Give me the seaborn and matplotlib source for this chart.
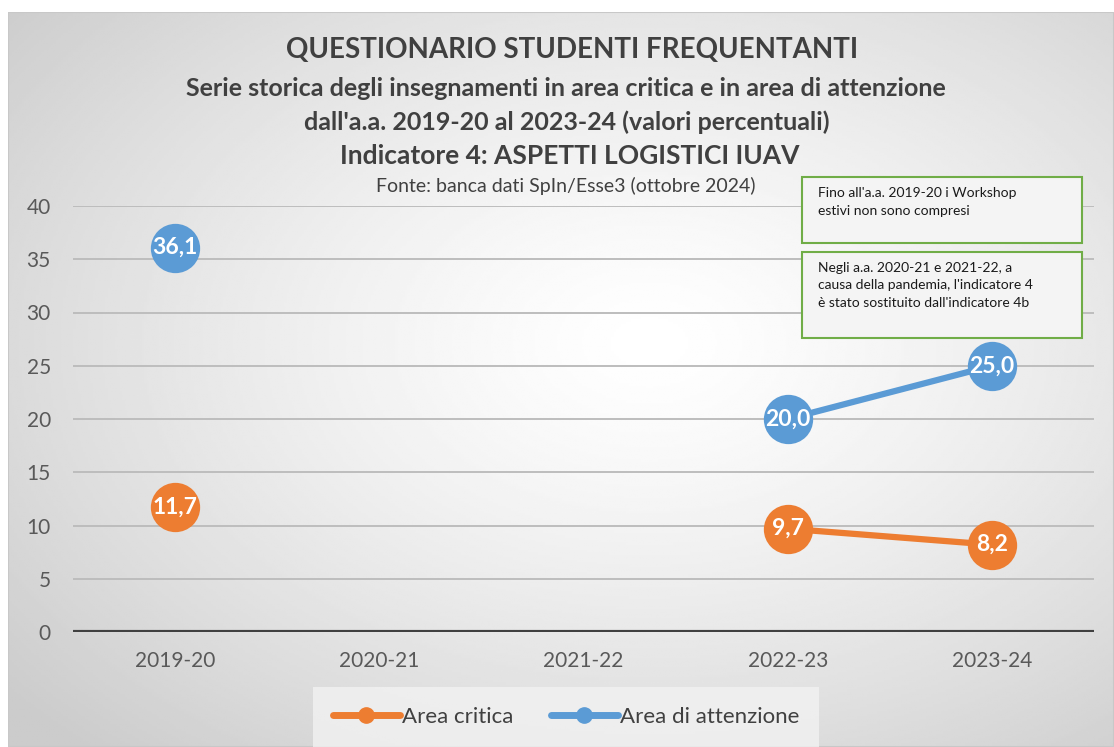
import numpy as np
import pandas as pd
import seaborn as sns
import matplotlib.pyplot as plt
from matplotlib.lines import Line2D
from matplotlib.patches import Rectangle

years = ["2019-20", "2020-21", "2021-22", "2022-23", "2023-24"]
area_critica = [11.7, np.nan, np.nan, 9.7, 8.2]
area_attenzione = [36.1, np.nan, np.nan, 20.0, 25.0]
series_names = ["Area critica", "Area di attenzione"]
colors = {"Area critica": "#ED7D31", "Area di attenzione": "#5B9BD5"}

rows = []
for name, vals in zip(series_names, [area_critica, area_attenzione]):
    seg = 0
    prev_nan = True
    for i, v in enumerate(vals):
        if np.isnan(v):
            prev_nan = True
            continue
        if prev_nan:
            seg += 1
        prev_nan = False
        rows.append({"x": i, "valore": v, "serie": name, "seg": f"{name}-{seg}"})
df = pd.DataFrame(rows)

sns.set_style("white")
plt.rcParams["font.family"] = ["Lato", "DejaVu Sans"]

W, H = 1114, 747
fig = plt.figure(figsize=(W / 100, H / 100), dpi=100)

# radial gradient background of the chart area
bg = fig.add_axes([8 / W, 0, 1 - 8 / W, 1 - 12 / H], zorder=-10)
yy, xx = np.mgrid[0:1:300j, 0:1:450j]
r = np.sqrt(((xx - 0.58) / 0.75) ** 2 + ((yy - 0.45) / 0.75) ** 2)
r = np.clip(r, 0, 1)
shade = 1.0 - 0.20 * r ** 1.3
bg.imshow(shade, cmap="gray", vmin=0, vmax=1, extent=[0, 1, 0, 1], aspect="auto")
bg.set_xlim(0, 1)
bg.set_ylim(0, 1)
bg.axis("off")
bg.add_patch(Rectangle((0, 0), 1, 1, fill=False, edgecolor="#c8c8c8", lw=1.5))

ax = fig.add_axes([73 / W, 1 - 632 / H, (1094 - 73) / W, (632 - 206) / H])
ax.patch.set_alpha(0)

for yv in range(5, 45, 5):
    ax.axhline(yv, color="#bdbdbd", lw=1.4, zorder=0)
ax.axhline(0, color="#404040", lw=3, zorder=1)

sns.lineplot(data=df, x="x", y="valore", hue="serie", units="seg", estimator=None,
             palette=colors, lw=4.5, marker="o", markersize=35.5, markeredgewidth=0,
             legend=False, ax=ax, zorder=3)

for _, rw in df.iterrows():
    ax.text(rw["x"], rw["valore"], f"{rw['valore']:.1f}".replace(".", ","),
            ha="center", va="center", color="white", fontsize=16.5, fontweight="bold", zorder=5)

ax.set_xlim(-0.5, 4.5)
ax.set_ylim(0, 40)
ax.set_xticks(range(len(years)))
ax.set_xticklabels(years, fontsize=15, color="#595959")
ax.set_yticks(range(0, 45, 5))
ax.set_yticklabels([str(v) for v in range(0, 45, 5)], fontsize=15, color="#595959")
ax.tick_params(axis="y", length=0, pad=16)
ax.tick_params(axis="x", length=0, pad=14)
ax.set_xlabel("")
ax.set_ylabel("")
for s in ax.spines.values():
    s.set_visible(False)

tc = "#404040"
fig.text(572 / W, 1 - 50 / H, "QUESTIONARIO STUDENTI FREQUENTANTI", ha="center", va="center",
         fontsize=20, fontweight="bold", color=tc)
fig.text(566 / W, 1 - 88 / H, "Serie storica degli insegnamenti in area critica e in area di attenzione",
         ha="center", va="center", fontsize=18, fontweight="bold", color=tc)
fig.text(567 / W, 1 - 122 / H, "dall'a.a. 2019-20 al 2023-24 (valori percentuali)",
         ha="center", va="center", fontsize=18, fontweight="bold", color=tc)
fig.text(570 / W, 1 - 156 / H, "Indicatore 4: ASPETTI LOGISTICI IUAV",
         ha="center", va="center", fontsize=19, fontweight="bold", color=tc)
fig.text(566 / W, 1 - 186 / H, "Fonte: banca dati SpIn/Esse3 (ottobre 2024)",
         ha="center", va="center", fontsize=14, color=tc)

# note boxes
notes = [
    ((802, 177, 1082, 243), "Fino all'a.a. 2019-20 i Workshop\nestivi non sono compresi", 1.6),
    ((802, 252, 1082, 338), "Negli a.a. 2020-21 e 2021-22, a\ncausa della pandemia, l'indicatore 4\nè stato sostituito dall'indicatore 4b", 1.55),
]
for (x0, y0, x1, y1), txt, ls in notes:
    fig.patches.append(Rectangle((x0 / W, 1 - y1 / H), (x1 - x0) / W, (y1 - y0) / H,
                                 transform=fig.transFigure, facecolor="#f4f4f4",
                                 edgecolor="#70AD47", lw=1.5, zorder=4))
    fig.text((x0 + 16) / W, 1 - (y0 + 10) / H, txt, ha="left", va="top", fontsize=10,
             color="#1a1a1a", linespacing=ls, zorder=5)

handles = [Line2D([0], [0], color=colors[n], lw=5, marker="o", markersize=11,
                  solid_capstyle="round") for n in series_names]
leg = fig.legend(handles, series_names, loc="center", bbox_to_anchor=(566 / W, 1 - 717 / H),
                 ncol=2, frameon=True, fontsize=16, handlelength=3.0, columnspacing=1.7,
                 handletextpad=0.1, borderpad=0.6)
leg.get_frame().set_facecolor("#f2f2f2")
leg.get_frame().set_edgecolor("none")
leg.get_frame().set_boxstyle("square")
for t in leg.get_texts():
    t.set_color("#404040")

fig.savefig("out.png", dpi=100)
